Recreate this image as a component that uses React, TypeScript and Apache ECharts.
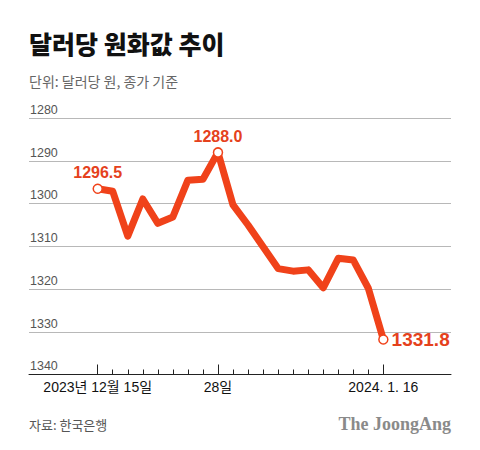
import React, { useEffect, useRef } from 'react';
import * as echarts from 'echarts';

// Business days from 2023-12-15 to 2024-01-16
const dates = [
  '2023-12-15', '2023-12-18', '2023-12-19', '2023-12-20', '2023-12-21',
  '2023-12-22', '2023-12-26', '2023-12-27', '2023-12-28', '2024-01-02',
  '2024-01-03', '2024-01-04', '2024-01-05', '2024-01-08', '2024-01-09',
  '2024-01-10', '2024-01-11', '2024-01-12', '2024-01-15', '2024-01-16',
];
// KRW per USD, closing rate
const rates = [
  1296.5, 1297.1, 1307.6, 1298.9, 1304.6,
  1303.1, 1294.5, 1294.3, 1288.0, 1300.3,
  1305.0, 1310.1, 1315.2, 1315.8, 1315.5,
  1319.7, 1312.8, 1313.2, 1319.8, 1331.8,
];
const labeledIdx = [0, 8, 19];
const axisLabelIdx = [0, 8, 19];
const axisLabelText = ['2023년 12월 15일', '28일', '2024. 1. 16'];
const yTicks = [1280, 1290, 1300, 1310, 1320, 1330, 1340];

const title = '달러당 원화값 추이';
const subtitle = '단위: 달러당 원, 종가 기준';
const source = '자료: 한국은행';
const logo = 'The JoongAng';

const RED = '#f0421a';
const LABEL_RED = '#e5411c';
const NUM_FONT = '"Liberation Sans", Arial, "Noto Sans CJK KR", sans-serif';
const KR_FONT = '"Noto Sans CJK KR", "Liberation Sans", sans-serif';

export default function App() {
  const ref = useRef<HTMLDivElement>(null);

  useEffect(() => {
    if (!ref.current) return;
    const chart = echarts.init(ref.current, null, { renderer: 'svg' });
    const xMin = -4.57;
    const xMax = 23.5;
    const labelPos: Record<number, any> = {
      0: { position: 'top', distance: 3, fontSize: 16 },
      8: { position: 'top', distance: 3, fontSize: 16 },
      19: { position: 'right', distance: 3, fontSize: 19 },
    };
    chart.setOption({
      animation: false,
      backgroundColor: '#ffffff',
      grid: {
        left: 29,
        right: 29,
        top: 118.25,
        bottom: 75.5,
        containLabel: false,
        outerBoundsMode: 'none',
      },
      xAxis: [
        {
          type: 'value',
          min: xMin,
          max: xMax,
          position: 'bottom',
          axisLine: { show: true, lineStyle: { color: '#222', width: 1 } },
          axisTick: {
            show: true,
            inside: true,
            length: 5,
            customValues: dates.map((_, i) => i),
            lineStyle: { color: '#222', width: 1 },
          },
          axisLabel: { show: false },
          splitLine: { show: false },
        },
        {
          type: 'value',
          min: xMin,
          max: xMax,
          position: 'bottom',
          axisLine: { show: false },
          axisTick: {
            show: true,
            inside: true,
            length: 10,
            customValues: axisLabelIdx,
            lineStyle: { color: '#222', width: 1 },
          },
          axisLabel: {
            show: true,
            customValues: axisLabelIdx,
            formatter: (v: number) => axisLabelText[axisLabelIdx.indexOf(Math.round(v))] ?? '',
            margin: 5,
            fontSize: 14,
            color: '#111',
            fontFamily: NUM_FONT,
          },
          splitLine: { show: false },
        },
      ],
      yAxis: {
        type: 'value',
        inverse: true,
        min: yTicks[0],
        max: yTicks[yTicks.length - 1],
        interval: yTicks[1] - yTicks[0],
        axisLine: { show: false },
        axisTick: { show: false },
        axisLabel: {
          inside: true,
          margin: 1,
          align: 'left',
          verticalAlign: 'bottom',
          padding: [0, 0, 2, 0],
          fontSize: 12.5,
          color: '#555',
          fontFamily: NUM_FONT,
          formatter: (v: number) => String(v),
        },
        splitLine: { show: true, lineStyle: { color: '#b8b8b8', width: 1 } },
      },
      series: [
        {
          type: 'line',
          xAxisIndex: 0,
          data: rates.map((v, i) => [i, v]),
          showSymbol: false,
          symbol: 'none',
          lineStyle: { color: RED, width: 7, join: 'round', cap: 'round' },
          emphasis: { disabled: true },
          z: 2,
        },
        {
          type: 'scatter',
          xAxisIndex: 0,
          symbol: 'circle',
          symbolSize: 9,
          itemStyle: { color: '#ffffff', borderColor: RED, borderWidth: 1.5, opacity: 1 },
          emphasis: { disabled: true },
          data: labeledIdx.map((i) => ({
            value: [i, rates[i]],
            label: {
              show: true,
              position: labelPos[i]?.position ?? 'top',
              distance: labelPos[i]?.distance ?? 3,
              fontSize: labelPos[i]?.fontSize ?? 16,
              fontWeight: 'bold',
              color: LABEL_RED,
              opacity: 1,
              fontFamily: NUM_FONT,
              formatter: (p: any) => Number(p.value[1]).toFixed(1),
            },
          })),
          z: 3,
        },
      ],
      graphic: [
        {
          type: 'text',
          x: 29,
          y: 43,
          style: {
            text: title,
            fill: '#111',
            font: `900 25px ${KR_FONT}`,
            textAlign: 'left',
            textVerticalAlign: 'middle',
          },
        },
        {
          type: 'text',
          x: 29,
          y: 81,
          style: {
            text: subtitle,
            fill: '#666',
            font: `14px ${KR_FONT}`,
            textAlign: 'left',
            textVerticalAlign: 'middle',
          },
        },
        {
          type: 'text',
          x: 29,
          y: 424,
          style: {
            text: source,
            fill: '#555',
            font: `13px ${KR_FONT}`,
            textAlign: 'left',
            textVerticalAlign: 'middle',
          },
        },
        {
          type: 'text',
          x: 451,
          y: 424,
          style: {
            text: logo,
            fill: '#8a8a8a',
            font: `bold 18px "Liberation Serif", "DejaVu Serif", serif`,
            textAlign: 'right',
            textVerticalAlign: 'middle',
          },
        },
      ],
    });
    return () => chart.dispose();
  }, []);

  return (
    <div
      ref={ref}
      style={{ position: 'fixed', left: 0, top: 0, width: 480, height: 450, background: '#fff' }}
    />
  );
}
